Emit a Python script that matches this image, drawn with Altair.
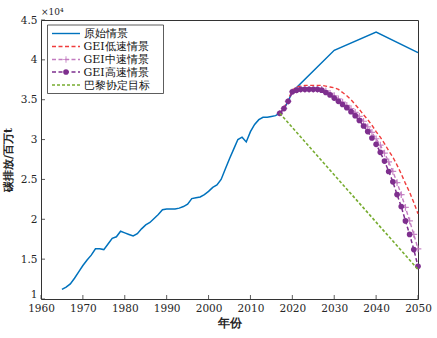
import altair as alt
import pandas as pd

# ---------------- data (values in units of 10^4 Mt) ----------------
hist_years = list(range(1965, 2018))
hist_vals = [1.12, 1.15, 1.19, 1.26, 1.34, 1.42, 1.49, 1.55, 1.63, 1.63,
             1.62, 1.69, 1.76, 1.78, 1.85, 1.83, 1.81, 1.79, 1.82, 1.88,
             1.93, 1.96, 2.01, 2.06, 2.12, 2.13, 2.13, 2.13, 2.14, 2.16,
             2.19, 2.26, 2.27, 2.28, 2.31, 2.35, 2.40, 2.43, 2.50, 2.63,
             2.76, 2.88, 3.00, 3.03, 2.97, 3.10, 3.19, 3.25, 3.28, 3.28,
             3.29, 3.30, 3.33]
proj_years = [2018, 2019, 2020, 2030, 2040, 2050]
proj_vals = [3.39, 3.48, 3.60, 4.12, 4.35, 4.09]

gei_years = list(range(2017, 2051))
low_vals = [3.33, 3.40, 3.50, 3.62, 3.66, 3.67, 3.68, 3.68, 3.68, 3.68,
            3.68, 3.67, 3.66, 3.65, 3.63, 3.59, 3.55, 3.50, 3.44, 3.38,
            3.31, 3.25, 3.18, 3.10, 3.03, 2.95, 2.86, 2.78, 2.68, 2.57,
            2.45, 2.34, 2.21, 2.07]
mid_vals = [3.33, 3.39, 3.48, 3.60, 3.62, 3.63, 3.63, 3.63, 3.63, 3.63,
            3.63, 3.61, 3.58, 3.55, 3.51, 3.47, 3.43, 3.39, 3.34, 3.29,
            3.23, 3.16, 3.09, 3.01, 2.93, 2.83, 2.72, 2.60, 2.46, 2.31,
            2.15, 1.98, 1.81, 1.63]
high_vals = [3.33, 3.39, 3.48, 3.60, 3.62, 3.63, 3.63, 3.63, 3.63, 3.63,
             3.62, 3.59, 3.56, 3.52, 3.48, 3.44, 3.40, 3.35, 3.30, 3.24,
             3.17, 3.10, 3.02, 2.94, 2.84, 2.73, 2.60, 2.47, 2.31, 2.16,
             1.98, 1.81, 1.62, 1.41]
paris_years = [2017, 2050]
paris_vals = [3.33, 1.37]

names = ["原始情景", "GEI低速情景", "GEI中速情景", "GEI高速情景", "巴黎协定目标"]
colors = ["#0072BD", "#F03C3C", "#C27BC0", "#7E2F8E", "#77AC30"]

x_ticks = list(range(1960, 2051, 10))
y_ticks = [1, 1.5, 2, 2.5, 3, 3.5, 4, 4.5]

# ---------------- layout ----------------
W, H = 377, 279
SERIF = "DejaVu Serif"
TXT = "#262626"
PLUS = "M-1,0L1,0M0,-1L0,1"

x_scale = alt.Scale(domain=[1960, 2050], nice=False, zero=False)
y_scale = alt.Scale(domain=[1, 4.5], nice=False, zero=False)

x_axis = alt.Axis(values=x_ticks, format="d", title="年份", grid=False, domain=False,
                  tickSize=0, labelPadding=4, titlePadding=4, labelFont=SERIF,
                  labelFontSize=10.5, labelColor=TXT, titleFont=SERIF, titleFontSize=12,
                  titleFontWeight="bold", titleColor=TXT, labelFlush=False)
y_axis = alt.Axis(values=y_ticks, format="~g", title="碳排放/百万t", grid=False, domain=False,
                  tickSize=0, labelPadding=4, titlePadding=7, labelFont=SERIF,
                  labelFontSize=10.5, labelColor=TXT, titleFont=SERIF, titleFontSize=11,
                  titleFontWeight="bold", titleColor=TXT,
                  labelOffset={"condition": {"test": "datum.value == 1", "value": -5}, "value": 0})

X = alt.X("year:Q", scale=x_scale, axis=x_axis)
Y = alt.Y("value:Q", scale=y_scale, axis=y_axis)


def frame(years, vals):
    return pd.DataFrame({"year": years, "value": vals})


orig_df = frame(hist_years + proj_years, hist_vals + proj_vals)
low_df = frame(gei_years, low_vals)
mid_df = frame(gei_years, mid_vals)
high_df = frame(gei_years, high_vals)
paris_df = frame(paris_years, paris_vals)

layers = []
layers.append(alt.Chart(orig_df).mark_line(color=colors[0], strokeWidth=1.5).encode(x=X, y=Y))
layers.append(alt.Chart(low_df).mark_line(color=colors[1], strokeWidth=1.4, strokeDash=[4, 2.5]).encode(x=X, y=Y))
layers.append(alt.Chart(mid_df).mark_line(color=colors[2], strokeWidth=1.4, strokeDash=[4, 2.5]).encode(x=X, y=Y))
layers.append(alt.Chart(mid_df).mark_point(shape=PLUS, size=45, filled=False, color=colors[2],
                                           strokeWidth=1.2, opacity=0.9).encode(x=X, y=Y))
layers.append(alt.Chart(high_df).mark_line(color=colors[3], strokeWidth=1.5, strokeDash=[4, 2.5]).encode(x=X, y=Y))
layers.append(alt.Chart(high_df).mark_point(shape="circle", size=32, filled=True, color=colors[3],
                                            opacity=1).encode(x=X, y=Y))
layers.append(alt.Chart(paris_df).mark_line(color=colors[4], strokeWidth=1.6, strokeDash=[3, 2]).encode(x=X, y=Y))

# inward ticks
xt = pd.DataFrame({"year": x_ticks})
yt = pd.DataFrame({"value": y_ticks})
layers.append(alt.Chart(xt).mark_rule(color="#333", strokeWidth=0.8).encode(
    x=X, y=alt.value(H), y2=alt.value(H - 4)))
layers.append(alt.Chart(yt).mark_rule(color="#333", strokeWidth=0.8).encode(
    y=Y, x=alt.value(0), x2=alt.value(4)))

# legend (manual)
one = alt.Data(values=[{"k": 0}])
layers.append(alt.Chart(one).mark_rect(fill="white", stroke="#333", strokeWidth=0.8).encode(
    x=alt.value(6.5), x2=alt.value(122.5), y=alt.value(5), y2=alt.value(73.5)))
row_y = [13.5, 26.5, 39.5, 52, 65]
dashes = [None, [4, 2.5], [4, 2.5], [4, 2.5], [3, 2]]
for i, name in enumerate(names):
    yy = row_y[i]
    rule_kwargs = dict(color=colors[i], strokeWidth=1.4)
    if dashes[i] is not None:
        rule_kwargs["strokeDash"] = dashes[i]
    layers.append(alt.Chart(one).mark_rule(**rule_kwargs).encode(
        x=alt.value(11), x2=alt.value(39), y=alt.value(yy)))
    if i == 2:
        layers.append(alt.Chart(one).mark_point(shape=PLUS, size=45, filled=False, color=colors[i],
                                                strokeWidth=1.2).encode(x=alt.value(25), y=alt.value(yy)))
    if i == 3:
        layers.append(alt.Chart(one).mark_point(shape="circle", size=32, filled=True, color=colors[i],
                                                opacity=1).encode(x=alt.value(25), y=alt.value(yy)))
    layers.append(alt.Chart(one).mark_text(align="left", baseline="middle", font=SERIF, fontSize=11,
                                           color="#111").encode(
        x=alt.value(42.5), y=alt.value(yy + 0.5), text=alt.value(name)))

# exponent label
layers.append(alt.Chart(one).mark_text(align="left", baseline="alphabetic", font=SERIF, fontSize=9,
                                       color=TXT).encode(
    x=alt.value(0), y=alt.value(-5), text=alt.value("×10⁴")))

chart = alt.layer(*layers).properties(
    width=W, height=H,
    autosize=alt.AutoSizeParams(type="none"),
    padding={"left": 41, "top": 20, "right": 19, "bottom": 39},
    background="white",
).configure_view(stroke="#333", strokeWidth=1)

chart.save("out.html", embed_options={"renderer": "svg", "actions": False})
